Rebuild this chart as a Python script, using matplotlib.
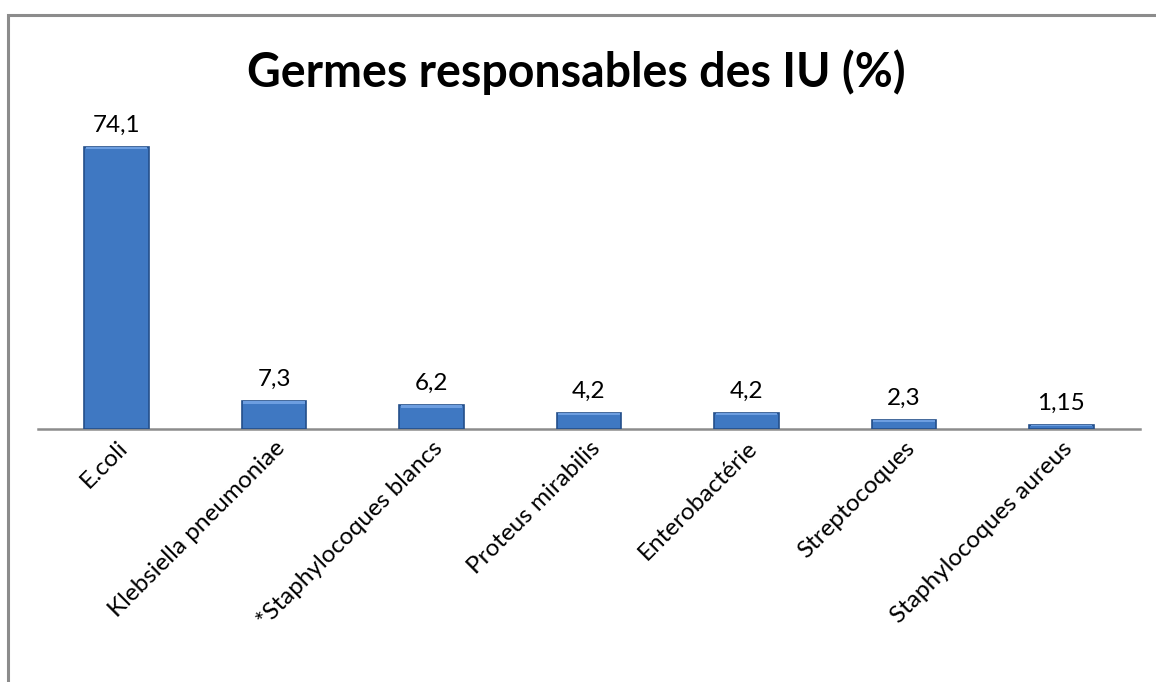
import matplotlib
matplotlib.use("Agg")
import matplotlib.pyplot as plt
from matplotlib.patches import Rectangle

categories = ["E.coli", "Klebsiella pneumoniae", "*Staphylocoques blancs",
              "Proteus mirabilis", "Enterobactérie", "Streptocoques",
              "Staphylocoques aureus"]
values = [74.1, 7.3, 6.2, 4.2, 4.2, 2.3, 1.15]
value_labels = ["74,1", "7,3", "6,2", "4,2", "4,2", "2,3", "1,15"]
title = "Germes responsables des IU (%)"

plt.rcParams['font.family'] = ['Lato', 'DejaVu Sans']

W, H = 1156, 682
fig = plt.figure(figsize=(W/100, H/100), dpi=100)
fig.patch.set_facecolor("white")

# chart border (partly outside the image)
fig.patches.append(Rectangle((8/W, -0.1), 1.2, 1 - 15/H + 0.1, transform=fig.transFigure,
                             fill=False, edgecolor="#8c8c8c", linewidth=2.2, clip_on=False))

left, right = 38/W, 1140/W
bottom = 1 - 429/H
ymax = 80
px_per_unit = (429 - 147) / 74.1
top_px = 429 - ymax * px_per_unit
ax = fig.add_axes([left, bottom, right - left, (429 - top_px)/H])
ax.set_xlim(-0.5, len(categories) - 0.5)
ax.set_ylim(0, ymax)

x = list(range(len(categories)))
ax.bar(x, values, width=0.41, color="#3f78c2", edgecolor="#244f8a",
       linewidth=1.2, zorder=3)
# bevel highlight on top of bars
for xi, v in zip(x, values):
    h = 0.6 if v > 3 else v * 0.25
    ax.bar(xi, h, bottom=v - h, width=0.39, color="#6d9ee0", linewidth=0, zorder=4)

for xi, v, lab in zip(x, values, value_labels):
    ax.annotate(lab, (xi, v), xytext=(0, 8), textcoords="offset points",
                ha="center", va="bottom", fontsize=17.5, color="black")

for s in ["top", "right", "left"]:
    ax.spines[s].set_visible(False)
ax.spines["bottom"].set_color("#8c8c8c")
ax.spines["bottom"].set_linewidth(1.8)
ax.set_yticks([])
ax.set_xticks(x)
ax.set_xticklabels(categories, rotation=45, ha="right", va="top",
                   rotation_mode="anchor", fontsize=17.5)
ax.tick_params(axis="x", length=0, pad=6)
ax.set_facecolor("none")

fig.text((245 + 908) / 2 / W, 1 - 72/H, title, ha="center", va="center",
         fontsize=33.5, fontweight="bold")

fig.savefig("out.png", dpi=100)
